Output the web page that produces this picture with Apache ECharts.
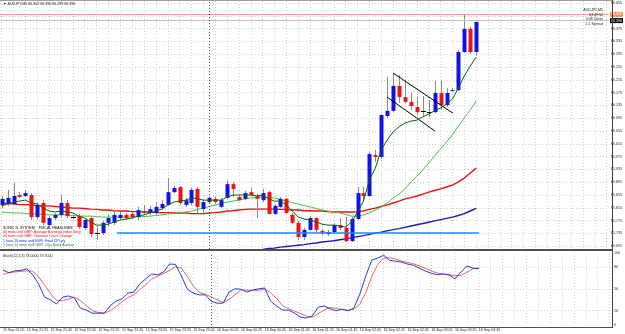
<!DOCTYPE html>
<html><head><meta charset="utf-8">
<script src="https://cdn.jsdelivr.net/npm/echarts@6/dist/echarts.min.js"></script>
<style>html,body{margin:0;padding:0;background:#fff}#c{width:625px;height:334px}</style>
</head><body><div id="c"></div>
<script>
// ---------- DATA ----------
const symbol = 'AUDJPY,M5';
const labelIdx = [0,4,8,12,16,20,24,28,32,36,40,44,48,52,56,60,64,68,72,76,80];
const timeLabels = ['15 Sep 21:05','15 Sep 21:25','15 Sep 21:45','15 Sep 22:05','15 Sep 22:25','15 Sep 22:45','15 Sep 23:05','15 Sep 23:25','15 Sep 23:45','16 Sep 00:05','16 Sep 00:25','16 Sep 00:45','16 Sep 01:05','16 Sep 01:25','16 Sep 01:45','16 Sep 02:05','16 Sep 02:25','16 Sep 02:45','16 Sep 03:05','16 Sep 03:25','16 Sep 03:45'];
const priceTicks = [86.455,86.415,86.375,86.335,86.295,86.255,86.215,86.175,86.135,86.095,86.055,86.015,85.975,85.935,85.895,85.855,85.815,85.775,85.735,85.695];
const stochLabels = [0,20,50,80,100];
const stochLevels = [20,50,80];

const openP  = [85.824,85.827,85.827,85.855,85.852,85.855,85.786,85.830,85.761,85.783,85.793,85.830,85.786,85.789,85.752,85.783,85.736,85.736,85.768,85.768,85.783,85.793,85.796,85.786,85.805,85.799,85.799,85.814,85.824,85.864,85.880,85.824,85.830,85.874,85.811,85.833,85.843,85.818,85.846,85.889,85.849,85.843,85.864,85.852,85.839,85.864,85.796,85.818,85.843,85.793,85.768,85.724,85.746,85.783,85.743,85.733,85.739,85.761,85.752,85.711,85.780,85.861,85.852,85.980,85.974,86.102,86.118,86.196,86.161,86.146,86.130,86.118,86.114,86.114,86.174,86.136,86.180,86.183,86.302,86.374,86.302];
const highP  = [85.852,85.871,85.893,85.864,85.871,85.861,85.830,85.839,85.789,85.799,85.855,85.839,85.793,85.796,85.783,85.789,85.758,85.774,85.793,85.808,85.802,85.799,85.802,85.818,85.824,85.821,85.833,85.839,85.908,85.883,85.883,85.846,85.877,85.880,85.839,85.852,85.849,85.846,85.902,85.896,85.855,85.868,85.877,85.858,85.874,85.868,85.827,85.849,85.846,85.799,85.774,85.752,85.789,85.786,85.749,85.746,85.768,85.783,85.786,85.786,85.880,85.880,85.989,85.996,86.108,86.224,86.236,86.230,86.214,86.177,86.161,86.164,86.152,86.211,86.214,86.189,86.189,86.308,86.421,86.380,86.396];
const lowP   = [85.814,85.821,85.824,85.846,85.849,85.777,85.780,85.761,85.755,85.777,85.786,85.783,85.780,85.749,85.746,85.724,85.714,85.730,85.758,85.761,85.777,85.777,85.780,85.777,85.796,85.793,85.793,85.808,85.821,85.861,85.824,85.818,85.824,85.799,85.793,85.827,85.827,85.814,85.843,85.849,85.836,85.839,85.852,85.783,85.833,85.793,85.793,85.814,85.796,85.764,85.714,85.714,85.743,85.739,85.730,85.727,85.733,85.746,85.708,85.708,85.777,85.833,85.849,85.958,85.967,86.096,86.114,86.143,86.143,86.121,86.105,86.099,86.099,86.111,86.121,86.130,86.177,86.180,86.299,86.296,86.289];
const closeP = [85.843,85.846,85.852,85.849,85.861,85.786,85.824,85.768,85.783,85.793,85.830,85.789,85.787,85.755,85.777,85.733,85.735,85.768,85.783,85.793,85.793,85.783,85.786,85.808,85.800,85.811,85.818,85.827,85.864,85.877,85.830,85.839,85.871,85.818,85.833,85.846,85.833,85.839,85.889,85.874,85.839,85.861,85.855,85.843,85.861,85.796,85.821,85.843,85.799,85.768,85.724,85.746,85.783,85.746,85.736,85.739,85.761,85.752,85.711,85.780,85.861,85.852,85.983,85.974,86.105,86.118,86.196,86.161,86.146,86.133,86.114,86.116,86.113,86.174,86.136,86.174,86.183,86.302,86.374,86.302,86.396];

const maFast = [85.821,85.827,85.833,85.836,85.839,85.830,85.827,85.814,85.805,85.802,85.805,85.802,85.799,85.789,85.783,85.771,85.761,85.761,85.764,85.771,85.777,85.780,85.783,85.789,85.793,85.799,85.805,85.811,85.824,85.833,85.836,85.839,85.846,85.843,85.839,85.839,85.839,85.839,85.849,85.855,85.855,85.855,85.855,85.852,85.855,85.843,85.836,85.836,85.824,85.805,85.786,85.780,85.777,85.771,85.764,85.761,85.761,85.758,85.755,85.771,85.802,85.836,85.902,85.939,85.996,86.027,86.052,86.068,86.080,86.086,86.089,86.099,86.108,86.118,86.127,86.139,86.155,86.189,86.227,86.258,86.286];
const maMid  = [85.802,85.800,85.799,85.799,85.797,85.796,85.796,85.794,85.793,85.793,85.793,85.793,85.791,85.789,85.789,85.789,85.788,85.786,85.786,85.786,85.786,85.786,85.786,85.788,85.788,85.789,85.791,85.793,85.796,85.797,85.799,85.802,85.805,85.810,85.814,85.819,85.824,85.828,85.833,85.836,85.839,85.843,85.846,85.847,85.849,85.847,85.846,85.841,85.836,85.831,85.827,85.822,85.818,85.813,85.808,85.805,85.802,85.799,85.794,85.789,85.789,85.793,85.799,85.808,85.818,85.830,85.846,85.858,85.874,85.896,85.914,85.933,85.955,85.977,85.999,86.021,86.043,86.071,86.096,86.121,86.149];
const maSlow = [85.830,85.828,85.827,85.825,85.825,85.824,85.822,85.821,85.821,85.819,85.818,85.816,85.814,85.814,85.813,85.811,85.810,85.808,85.808,85.806,85.805,85.805,85.803,85.803,85.802,85.802,85.800,85.800,85.800,85.799,85.799,85.799,85.797,85.797,85.797,85.799,85.800,85.802,85.805,85.806,85.808,85.810,85.811,85.811,85.811,85.811,85.811,85.810,85.810,85.808,85.808,85.806,85.806,85.805,85.805,85.803,85.802,85.802,85.802,85.802,85.803,85.805,85.810,85.814,85.819,85.824,85.830,85.836,85.843,85.847,85.852,85.858,85.864,85.869,85.874,85.880,85.886,85.896,85.908,85.924,85.939];
const maLong = [null,null,null,null,null,null,null,null,null,null,null,null,null,null,null,null,null,null,null,null,null,null,null,null,null,null,null,null,null,null,null,null,null,null,null,null,null,null,null,null,null,null,85.680,85.683,85.685,85.688,85.689,85.692,85.694,85.696,85.698,85.700,85.703,85.705,85.708,85.710,85.712,85.715,85.718,85.721,85.725,85.728,85.732,85.736,85.739,85.743,85.747,85.750,85.754,85.758,85.762,85.766,85.770,85.774,85.778,85.782,85.786,85.791,85.797,85.805,85.813];

const stochK = [76.4,72.5,75.3,75.8,78.1,69.7,56.9,38.6,34.7,29.2,38.6,40.3,37.5,23.6,20.8,16.4,16.4,16.4,26.4,33.1,36.4,44.2,45.8,56.9,64.2,70.8,69.7,73.6,84.7,84.2,68.1,49.7,44.2,41.9,41.9,33.1,30.3,30.3,45.8,50.3,49.7,45.8,48.6,50.3,51.4,33.1,26.4,20.8,20.6,16.7,11,9.7,12.5,24.7,26.4,22.5,19.7,22,19.7,23.6,43,68,90,93,97,90,88.6,87.5,84.7,83,79,75,72,69.7,70.8,69.7,64,73.6,82,79,78];
const stochD = [70,73,73.6,74.5,75.3,74.5,67,55,44,34,34,36,39,34,27,20,17.5,16.4,19.7,25.5,32,38,42,49,56,64,68,71.3,76,80.8,79,67.3,54,45.3,42.7,39,35,31.2,35.4,42,48.6,48.6,48,48.2,50,45,37,26.8,22.6,19.4,16,12.5,11,15.6,21,24.5,22.9,21.4,20.5,21.8,29,45,67,84,93,93.3,91.9,88.7,87,85,82.2,79,75.3,72.2,70.8,70,68.2,69,73.2,78.2,79.7];

const spreadPips = 2.1;
const daySeparator = 35;                    // 16 Sep 00:00 bar
const supportLevel = [85.738, 19.4, 80.5];  // price, from bar, to bar
const dottedLevel  = [86.142, -0.3, 80.3];
const flagLines = [[[66.0,86.236],[76.06,86.111]], [[65.0,86.161],[73.04,86.055]]];
const infoLines = ['AUDJPY,M5','03:49:52','0:08 Close','2.1 Spread'];
const newsLines = [
  ['SONIC R. SYSTEM    FISCAL HEADLINES', '#000000'],
  ['40 mins until GBP: Average Earnings Index 3m/y', '#e01010'],
  ['40 mins until GBP: Claimant Count Change', '#e01010'],
  ['1 hour 10 mins until EUR: Final CPI y/y', '#1010e0'],
  ['1 hour 14 mins until GBP: 10-y Bond Auction', '#12806a']
];

// ---------- BUILD ----------
const N = closeP.length;
const bid = closeP[N-1];
const ask = +(bid + spreadPips*0.01).toFixed(3);
const gridCols = []; for (let i = 0; i <= 102; i += 2) gridCols.push(i);
const FONT = 'Liberation Sans, Arial, sans-serif';
const FS = 3.6;
const candleData = openP.map((o,i)=>[i,o,closeP[i],lowP[i],highP[i]]);
const pair = arr => arr.map((v,i)=>[i, v]);

const chart = echarts.init(document.getElementById('c'), null, {renderer:'canvas'});
const xBase = (gi, labels) => ({
  type:'value', gridIndex:gi, min:-0.285, max:102.4,
  axisLine:{show:false},
  axisTick:{show:false, customValues:gridCols},
  splitLine:{show:true, lineStyle:{color:'#cfcfcf', width:1, type:[1,2]}},
  axisLabel: labels ? {show:true, customValues:labelIdx, align:'left', margin:3, fontSize:FS, fontFamily:FONT, color:'#222',
      formatter: v => { const j = labelIdx.indexOf(Math.round(v)); return j>=0 ? timeLabels[j] : ''; }} : {show:false}
});

const option = {
  animation:false,
  backgroundColor:'#ffffff',
  grid:[{left:0, top:1, width:612, height:248}, {left:0, top:253, width:612, height:72}],
  xAxis:[xBase(0,false), xBase(1,true)],
  yAxis:[
    {type:'value', gridIndex:0, position:'right', min:85.6863, max:86.4613,
     axisLine:{show:false}, axisTick:{show:false, customValues:priceTicks},
     axisLabel:{customValues:priceTicks, formatter:v=>v.toFixed(3), fontSize:FS, fontFamily:FONT, color:'#222', margin:2},
     splitLine:{show:true, lineStyle:{color:'#cfcfcf', width:1, type:[1,2]}}},
    {type:'value', gridIndex:1, position:'right', min:0, max:100,
     axisLine:{show:false}, axisTick:{show:false, customValues:stochLevels},
     axisLabel:{customValues:stochLabels, fontSize:FS, fontFamily:FONT, color:'#222', margin:2},
     splitLine:{show:true, lineStyle:{color:'#cfcfcf', width:1, type:[1,2]}}}
  ],
  series:[
    {type:'line', xAxisIndex:0, yAxisIndex:0, data:pair(maLong), showSymbol:false, z:3, lineStyle:{color:'#1a1ab4', width:1.4}, clip:true},
    {type:'line', xAxisIndex:0, yAxisIndex:0, data:pair(maSlow), showSymbol:false, z:3, lineStyle:{color:'#ee1111', width:1.4}, clip:true},
    {type:'line', xAxisIndex:0, yAxisIndex:0, data:pair(maMid), showSymbol:false, z:3, lineStyle:{color:'#3cc83c', width:1}, clip:true},
    {type:'custom', xAxisIndex:0, yAxisIndex:0, data:candleData, z:4, clip:true,
     encode:{x:0, y:[1,2,3,4]},
     renderItem:(params, api) => {
       const k=api.value(0), o=api.value(1), c=api.value(2), l=api.value(3), h=api.value(4);
       const po=api.coord([k,o]), pc=api.coord([k,c]), pl=api.coord([k,l]), ph=api.coord([k,h]);
       const x=Math.round(po[0])+0.5;
       const top=Math.min(po[1],pc[1]), bot=Math.max(po[1],pc[1]);
       const ch=[{type:'line', shape:{x1:x,y1:ph[1],x2:x,y2:pl[1]}, style:{stroke:'#8a8a8a', lineWidth:1}}];
       if (bot-top < 0.9) ch.push({type:'line', shape:{x1:x-2.5,y1:Math.round(top)+0.5,x2:x+2.5,y2:Math.round(top)+0.5}, style:{stroke:'#000', lineWidth:1}});
       else ch.push({type:'rect', shape:{x:x-2, y:top, width:4, height:bot-top}, style:{fill: c>o ? '#1212e6' : '#ee1212'}});
       return {type:'group', children:ch};
     },
     markLine:{symbol:['none','none'], silent:true, animation:false,
       data:[
         {yAxis:ask, lineStyle:{color:'#f4a070', width:1, type:'solid'},
          label:{show:true, position:'end', distance:1, formatter:ask.toFixed(3), backgroundColor:'#f09060', color:'#fff', fontSize:FS, fontFamily:FONT, padding:[1,1,0,1]}},
         {yAxis:bid, lineStyle:{color:'#c0c0c0', width:1, type:'solid'},
          label:{show:true, position:'end', distance:1, formatter:bid.toFixed(3), backgroundColor:'#000', color:'#fff', fontSize:FS, fontFamily:FONT, padding:[1,1,0,1]}},
         {xAxis:daySeparator, lineStyle:{color:'#555', width:1, type:[1,2]}, label:{show:false}},
         [{coord:[dottedLevel[1],dottedLevel[0]], lineStyle:{color:'#c08080', width:1, type:[1,2]}, label:{show:false}}, {coord:[dottedLevel[2],dottedLevel[0]]}],
         [{coord:[supportLevel[1],supportLevel[0]], lineStyle:{color:'#1e8cff', width:1.5, type:'solid'}, label:{show:false}}, {coord:[supportLevel[2],supportLevel[0]]}],
         [{coord:flagLines[0][0], lineStyle:{color:'#000', width:1, type:'solid'}, label:{show:false}}, {coord:flagLines[0][1]}],
         [{coord:flagLines[1][0], lineStyle:{color:'#000', width:1, type:'solid'}, label:{show:false}}, {coord:flagLines[1][1]}]
       ]}},
    {type:'line', xAxisIndex:0, yAxisIndex:0, data:pair(maFast), showSymbol:false, z:5, lineStyle:{color:'#0a640a', width:1}, clip:true},
    {type:'line', xAxisIndex:1, yAxisIndex:1, data:pair(stochD), showSymbol:false, z:3, lineStyle:{color:'#f06262', width:1}, clip:true},
    {type:'line', xAxisIndex:1, yAxisIndex:1, data:pair(stochK), showSymbol:false, z:4, lineStyle:{color:'#1f3fe0', width:1}, clip:true,
     markLine:{symbol:['none','none'], silent:true, data:[{xAxis:daySeparator, lineStyle:{color:'#555', width:1, type:[1,2]}, label:{show:false}}]}}
  ],
  graphic:[
    {type:'line', shape:{x1:0,y1:0.5,x2:612,y2:0.5}, style:{stroke:'#a0a0a0', lineWidth:1}, z:10},
    {type:'line', shape:{x1:0,y1:250,x2:612,y2:250}, style:{stroke:'#505050', lineWidth:2}, z:10},
    {type:'line', shape:{x1:0,y1:327.5,x2:612,y2:327.5}, style:{stroke:'#505050', lineWidth:1}, z:10},
    {type:'line', shape:{x1:612.5,y1:0,x2:612.5,y2:328}, style:{stroke:'#404040', lineWidth:1}, z:10},
    {type:'text', x:3, y:4, z:11, style:{text:'\u25BC ' + symbol + ' ' + [openP[N-1],highP[N-1],lowP[N-1],closeP[N-1]].map(v=>v.toFixed(3)).join(' '), font:FS+'px '+FONT, fill:'#222', verticalAlign:'middle'}},
    {type:'text', x:3, y:255.5, z:11, style:{text:'Stoch(12,3,3) ' + stochK[N-1].toFixed(4) + ' ' + stochD[N-1].toFixed(4), font:FS+'px '+FONT, fill:'#222', verticalAlign:'middle'}},
    ...infoLines.map((t,i)=>({type:'text', x:603, y:10+i*4.7, z:11, style:{text:t, font:FS+'px '+FONT, fill:'#222', align:'right', verticalAlign:'middle'}})),
    ...newsLines.map((t,i)=>({type:'text', x:3, y:228+i*4.2, z:11, style:{text:t[0], font:FS+'px '+FONT, fill:t[1], verticalAlign:'middle'}}))
  ]
};
chart.setOption(option);
</script></body></html>
